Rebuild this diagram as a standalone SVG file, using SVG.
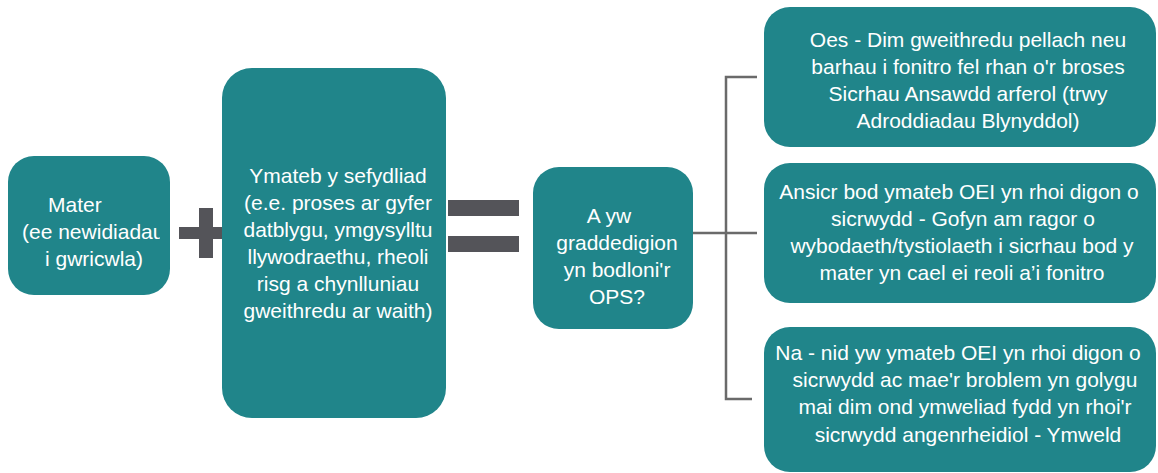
<svg xmlns="http://www.w3.org/2000/svg" width="1158" height="473" viewBox="0 0 1158 473">
<style>
.box{fill:#20858A;}
.t{font-family:"Liberation Sans",Arial,sans-serif;font-size:21px;fill:#FFFFFF;}
.c{text-anchor:middle;}
.sym{fill:#545459;}
.ln{stroke:#6A6A6A;stroke-width:2.5;fill:none;}
</style>
<defs>
<clipPath id="clipMater"><rect x="8" y="156" width="152" height="139"/></clipPath>
</defs>
<rect width="1158" height="473" fill="#FFFFFF"/>
<g id="connectors">
<rect class="sym" x="179" y="227" width="46" height="12"/>
<rect class="sym" x="199" y="208" width="14" height="50"/>
<rect class="sym" x="448" y="200" width="71" height="16"/>
<rect class="sym" x="448" y="236" width="71" height="16"/>
<path class="ln" d="M693 233 H757 M757 77 H726 V399 H752"/>
</g>
<g id="mater">
<rect class="box" x="8" y="156" width="162" height="139" rx="26"/>
<g clip-path="url(#clipMater)">
<text class="t" x="48" y="212">Mater</text>
<text class="t" x="22" y="239">(ee newidiadau</text>
<text class="t" x="45" y="266">i gwricwla)</text>
</g>
</g>
<g id="ymateb">
<rect class="box" x="222" y="68" width="224" height="350" rx="30"/>
<text class="t c" x="338" y="183">Ymateb y sefydliad</text>
<text class="t c" x="338" y="210">(e.e. proses ar gyfer</text>
<text class="t c" x="338" y="237">datblygu, ymgysylltu</text>
<text class="t c" x="338" y="264">llywodraethu, rheoli</text>
<text class="t c" x="338" y="291">risg a chynlluniau</text>
<text class="t c" x="338" y="318">gweithredu ar waith)</text>
</g>
<g id="question">
<rect class="box" x="533" y="167" width="160" height="162" rx="26"/>
<text class="t c" x="609" y="223">A yw</text>
<text class="t c" x="617" y="250">graddedigion</text>
<text class="t c" x="617" y="277">yn bodloni'r</text>
<text class="t c" x="617" y="304">OPS?</text>
</g>
<g id="oes">
<rect class="box" x="764" y="7" width="392" height="140" rx="26"/>
<text class="t c" x="968" y="47">Oes - Dim gweithredu pellach neu</text>
<text class="t c" x="968" y="74">barhau i fonitro fel rhan o'r broses</text>
<text class="t c" x="968" y="101">Sicrhau Ansawdd arferol (trwy</text>
<text class="t c" x="968" y="128">Adroddiadau Blynyddol)</text>
</g>
<g id="ansicr">
<rect class="box" x="764" y="163" width="392" height="140" rx="26"/>
<text class="t c" x="959" y="199">Ansicr bod ymateb OEI yn rhoi digon o</text>
<text class="t c" x="963" y="226">sicrwydd - Gofyn am ragor o</text>
<text class="t c" x="962" y="253">wybodaeth/tystiolaeth i sicrhau bod y</text>
<text class="t c" x="962" y="280">mater yn cael ei reoli a’i fonitro</text>
</g>
<g id="na">
<rect class="box" x="764" y="327" width="392" height="145" rx="26"/>
<text class="t c" x="958" y="360">Na - nid yw ymateb OEI yn rhoi digon o</text>
<text class="t c" x="965" y="387">sicrwydd ac mae'r broblem yn golygu</text>
<text class="t c" x="965" y="414">mai dim ond ymweliad fydd yn rhoi'r</text>
<text class="t c" x="968" y="442">sicrwydd angenrheidiol - Ymweld</text>
</g>
</svg>
